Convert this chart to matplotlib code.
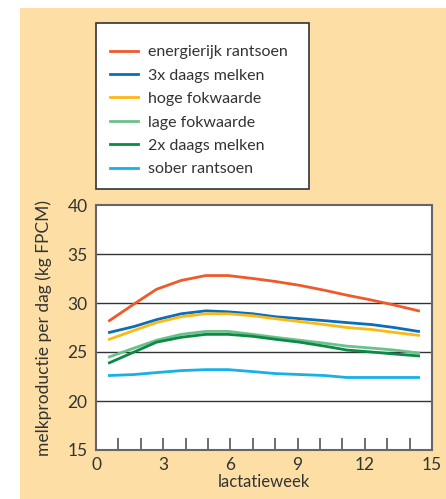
import matplotlib
matplotlib.use("Agg")
import matplotlib.pyplot as plt
from matplotlib.patches import Rectangle

plt.rcParams['font.family'] = ['Lato', 'DejaVu Sans']

weeks = [0.6, 1.7, 2.7, 3.8, 4.9, 5.9, 7.0, 8.0, 9.1, 10.2, 11.2, 12.3, 13.3, 14.4]
energierijk = [28.2, 29.9, 31.4, 32.3, 32.8, 32.8, 32.5, 32.2, 31.8, 31.3, 30.8, 30.3, 29.8, 29.2]
drie_x = [27.0, 27.6, 28.3, 28.9, 29.2, 29.1, 28.9, 28.6, 28.4, 28.2, 28.0, 27.8, 27.5, 27.1]
hoge = [26.3, 27.2, 28.0, 28.6, 28.9, 28.9, 28.7, 28.4, 28.1, 27.8, 27.5, 27.3, 27.0, 26.7]
lage = [24.5, 25.4, 26.2, 26.8, 27.1, 27.1, 26.8, 26.5, 26.2, 25.9, 25.6, 25.4, 25.2, 24.9]
twee_x = [23.9, 25.0, 26.0, 26.5, 26.8, 26.8, 26.6, 26.3, 26.0, 25.6, 25.2, 25.0, 24.8, 24.6]
sober = [22.6, 22.7, 22.9, 23.1, 23.2, 23.2, 23.0, 22.8, 22.7, 22.6, 22.4, 22.4, 22.4, 22.4]

labels = ["energierijk rantsoen", "3x daags melken", "hoge fokwaarde",
          "lage fokwaarde", "2x daags melken", "sober rantsoen"]
colors = ["#EE5A2A", "#0A6EB8", "#FDB913", "#6CC08B", "#0B8A45", "#16B1E6"]
series = [energierijk, drie_x, hoge, lage, twee_x, sober]
xticks = [0, 3, 6, 9, 12, 15]
yticks = [15, 20, 25, 30, 35, 40]

W, H = 446, 499
fig = plt.figure(figsize=(W / 100, H / 100), dpi=100)
fig.patch.set_facecolor("white")
fig.add_artist(Rectangle((20 / W, 0), 1 - 20 / W, 1 - 8 / H, transform=fig.transFigure,
                         facecolor="#FDDFA5", edgecolor="none", zorder=-10))

ax = fig.add_axes([96 / W, 1 - 450 / H, (432 - 96) / W, (450 - 205) / H])
ax.set_zorder(1)
ax.set_facecolor("white")

for y in yticks[1:-1]:
    ax.axhline(y, color="#333333", lw=1.0, zorder=1)

handles = []
for vals, c, lab in zip(series, colors, labels):
    ln, = ax.plot(weeks, vals, color=c, lw=2.0, label=lab, zorder=3,
                  solid_joinstyle="round")
    handles.append(ln)

ax.set_xlim(0, 15)
ax.set_ylim(15, 40)
ax.set_xticks(xticks)
ax.set_xticklabels([str(v) for v in xticks])
ax.set_yticks(yticks)
ax.set_xticks([i for i in range(1, 15)], minor=True)
ax.tick_params(axis="x", which="both", direction="in", length=9, width=1.2,
               color="#555555", pad=5, labelsize=12.5, labelcolor="#333333")
ax.tick_params(axis="y", which="major", length=0, pad=6, labelsize=12.5, labelcolor="#333333")

for s in ax.spines.values():
    s.set_color("#666666")
    s.set_linewidth(1.5)

ax.set_xlabel("lactatieweek", fontsize=12, color="#333333", labelpad=1)
ax.set_ylabel("melkproductie per dag (kg FPCM)", fontsize=12.5, color="#333333", labelpad=11)

# legend box
fig.add_artist(Rectangle((96 / W, 1 - 189 / H), (309 - 96) / W, (189 - 23) / H,
                         transform=fig.transFigure, facecolor="white",
                         edgecolor="#333333", lw=1.2, zorder=4))
leg = fig.legend(handles=handles, labels=labels, loc="upper left",
                 bbox_to_anchor=(110 / W, 1 - 45 / H), frameon=False,
                 fontsize=11.5, handlelength=1.75, handletextpad=0.6,
                 labelspacing=0.58, borderpad=0, borderaxespad=0)
leg.set_zorder(5)
for t in leg.get_texts():
    t.set_color("#333333")

fig.savefig("out.png", dpi=100)
